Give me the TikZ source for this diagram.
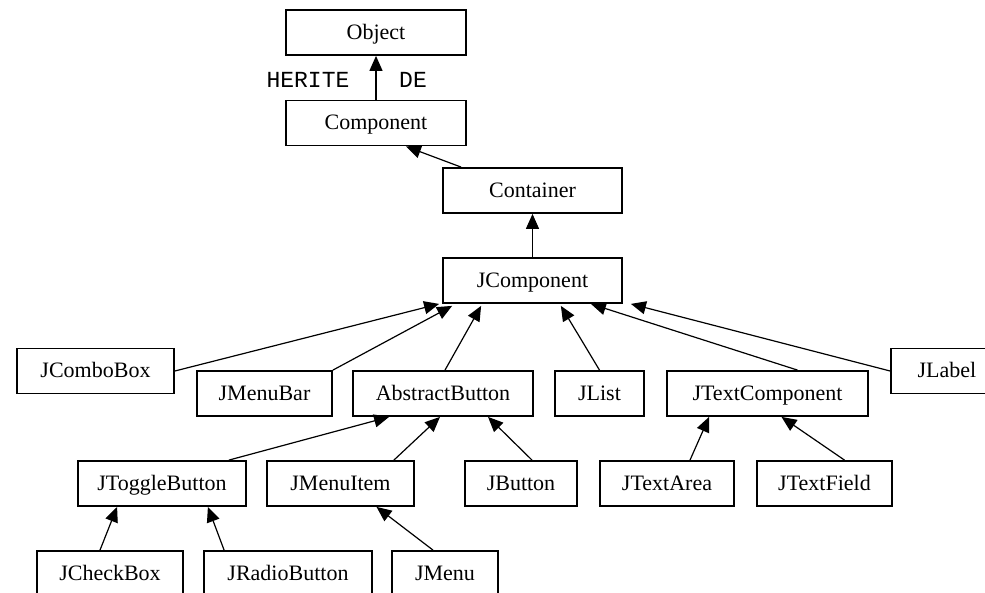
\documentclass[tikz,border=0pt]{standalone}
\usepackage{fontspec}
\setmainfont{Liberation Serif}
\newfontfamily\monofont{Liberation Mono}
\usetikzlibrary{arrows.meta}

\begin{document}
\begin{tikzpicture}[x=0.5pt,y=-0.5pt,
  cls/.style={draw, line width=0.9pt, minimum height=22.5pt, inner sep=0pt,
    text height=0.75em, text depth=0.08em, font=\fontsize{11}{13}\selectfont},
  inh/.style={-{Triangle[length=7.5pt,width=6.5pt]}, line width=0.6pt}]
  \fill[white] (0,0) rectangle (985,593);
  \useasboundingbox (0,0) rectangle (985,593);

  % top of the tree
  \node[cls, minimum width=90pt] (obj) at (376,32.5) {Object};
  \node[cls, minimum width=90pt] (comp) at (376,123) {Component};
  \node[cls, minimum width=89.5pt] (cont) at (532.5,190.5) {Container};
  \node[cls, minimum width=89.5pt] (jcomp) at (532.5,280.5) {JComponent};
  \node[font=\monofont\fontsize{11.5}{13}\selectfont] (herite) at (308,80) {HERITE};
  \node[font=\monofont\fontsize{11.5}{13}\selectfont] (de) at (413,80) {DE};

  % second row
  \node[cls, minimum width=78.5pt] (combo) at (95.5,371) {JComboBox};
  \node[cls, minimum width=67.5pt] (menubar) at (264.5,393.5) {JMenuBar};
  \node[cls, minimum width=90pt] (absbtn) at (443,393.5) {AbstractButton};
  \node[cls, minimum width=44.5pt] (jlist) at (599.5,393.5) {JList};
  \node[cls, minimum width=100.5pt] (txtcomp) at (767.5,393.5) {JTextComponent};
  \node[cls, minimum width=56pt] (jlabel) at (947,371) {JLabel};

  % third row
  \node[cls, minimum width=84pt] (toggle) at (162,483.5) {JToggleButton};
  \node[cls, minimum width=73.5pt] (menuitem) at (340.5,483.5) {JMenuItem};
  \node[cls, minimum width=56pt] (jbutton) at (521,483.5) {JButton};
  \node[cls, minimum width=67pt] (txtarea) at (667,483.5) {JTextArea};
  \node[cls, minimum width=67.5pt] (txtfield) at (824.5,483.5) {JTextField};

  % last row
  \node[cls, minimum width=73pt] (checkbox) at (110,573.5) {JCheckBox};
  \node[cls, minimum width=84pt] (radio) at (288,573.5) {JRadioButton};
  \node[cls, minimum width=53pt] (jmenu) at (445,573.5) {JMenu};

  % inheritance arrows
  \draw[inh] (comp.north) -- (obj.south);
  \draw[inh] ([xshift=9.5pt]cont.north west) -- ([xshift=-30.5pt]comp.south east);
  \draw[inh] (jcomp.north) -- (cont.south);

  \draw[inh] (combo.east) -- ([xshift=-1.5pt]jcomp.south west);
  \draw[inh] (menubar.north east) -- ([xshift=5pt,yshift=-1pt]jcomp.south west);
  \draw[inh] ([xshift=1pt]absbtn.north) -- ([xshift=19.5pt,yshift=-1pt]jcomp.south west);
  \draw[inh] (jlist.north) -- ([xshift=-31pt,yshift=-1pt]jcomp.south east);
  \draw[inh] ([xshift=15pt]txtcomp.north) -- ([xshift=-16pt]jcomp.south east);
  \draw[inh] (jlabel.west) -- ([xshift=4pt]jcomp.south east);

  \draw[inh] ([xshift=-9pt]toggle.north east) -- ([xshift=18.5pt]absbtn.south west);
  \draw[inh] ([xshift=-10.5pt]menuitem.north east) -- ([xshift=-1.5pt]absbtn.south);
  \draw[inh] ([xshift=5.5pt]jbutton.north) -- ([xshift=22.5pt]absbtn.south);
  \draw[inh] ([xshift=11.5pt]txtarea.north) -- ([xshift=21.5pt]txtcomp.south west);
  \draw[inh] ([xshift=10pt]txtfield.north) -- ([xshift=7pt]txtcomp.south);

  \draw[inh] ([xshift=-5pt]checkbox.north) -- ([xshift=20pt]toggle.south west);
  \draw[inh] ([xshift=10.5pt]radio.north west) -- ([xshift=-19.5pt]toggle.south east);
  \draw[inh] ([xshift=-6pt]jmenu.north) -- ([xshift=18pt]menuitem.south);
\end{tikzpicture}
\end{document}
